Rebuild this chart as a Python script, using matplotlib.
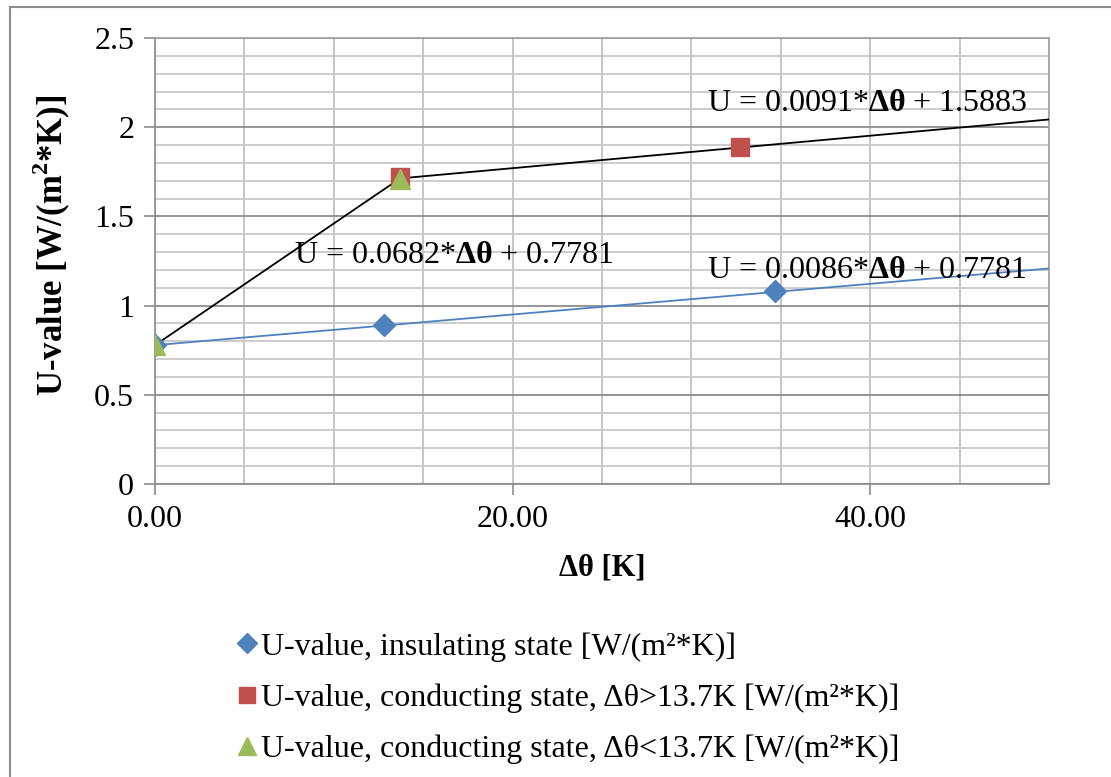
import numpy as np
import matplotlib
matplotlib.use("Agg")
import matplotlib.pyplot as plt
from matplotlib.ticker import MultipleLocator, FuncFormatter
from matplotlib.lines import Line2D

plt.rcParams['font.family'] = ['Liberation Serif', 'DejaVu Serif']
plt.rcParams['mathtext.fontset'] = 'custom'
plt.rcParams['mathtext.rm'] = 'Liberation Serif'
plt.rcParams['mathtext.bf'] = 'Liberation Serif:bold'

# Messpunkte
ins_x = [0.0, 12.8, 34.7]
ins_y = [0.78, 0.89, 1.08]
hi_x = [13.7, 32.7]
hi_y = [1.72, 1.89]
lo_x = [0.0, 13.7]
lo_y = [0.78, 1.71]

# Trendlinien: Steigung, Achsenabschnitt
ins_fit = (0.0086, 0.7781)
hi_fit = (0.0091, 1.5883)
lo_fit = (0.0682, 0.7781)
knee = 13.7
x_max = 50

labels = ['U-value, insulating state [W/(m²*K)]',
          'U-value, conducting state, Δθ>13.7K [W/(m²*K)]',
          'U-value, conducting state, Δθ<13.7K [W/(m²*K)]']

blue = '#4F81BD'
red = '#C0504D'
green = '#9BBB59'

fig = plt.figure(figsize=(11.11, 7.77), dpi=100)
ax = fig.add_axes([0.1395, 0.3771, 0.8047, 0.574])

# trend lines
xx = np.linspace(0, x_max, 50)
ax.plot(xx, ins_fit[0] * xx + ins_fit[1], color=blue, lw=1.3, zorder=3)
xl = np.linspace(0, knee, 20)
ax.plot(xl, lo_fit[0] * xl + lo_fit[1], color='black', lw=1.3, zorder=3)
xh = np.linspace(knee, x_max, 20)
ax.plot(xh, hi_fit[0] * xh + hi_fit[1], color='black', lw=1.3, zorder=3)

h1, = ax.plot(ins_x, ins_y, ls='none', marker='D', ms=11.5, color=blue, zorder=4, label=labels[0])
h2, = ax.plot(hi_x, hi_y, ls='none', marker='s', ms=13, color=red, zorder=4, label=labels[1])
h3, = ax.plot(lo_x, lo_y, ls='none', marker='^', ms=15, color=green, zorder=5, label=labels[2])

ax.set_xlim(0, x_max)
ax.set_ylim(0, 2.5)
ax.xaxis.set_major_locator(MultipleLocator(20))
ax.xaxis.set_minor_locator(MultipleLocator(5))
ax.yaxis.set_major_locator(MultipleLocator(0.5))
ax.yaxis.set_minor_locator(MultipleLocator(0.1))
ax.xaxis.set_major_formatter(FuncFormatter(lambda v, p: f'{v:.2f}'))
ax.yaxis.set_major_formatter(FuncFormatter(lambda v, p: f'{v:g}'))

ax.grid(which='major', axis='y', color='#8c8c8c', lw=1.3)
ax.grid(which='minor', axis='y', color='#c8c8c8', lw=1.3)
ax.grid(which='both', axis='x', color='#c0c0c0', lw=1.3)
ax.set_axisbelow(True)

ax.tick_params(which='major', direction='out', length=8, width=1.2, color='#8c8c8c',
               labelsize=23, pad=7)
ax.tick_params(which='minor', length=0)
for s in ax.spines.values():
    s.set_color('#a0a0a0')
    s.set_linewidth(1.2)
ax.spines['left'].set_color('#8c8c8c')
ax.spines['bottom'].set_color('#8c8c8c')

ax.set_ylabel('U-value [W/(m$^\\mathbf{2}$*K)]', fontsize=25, fontweight='bold')
ax.yaxis.set_label_coords(-0.092, 0.535)
ax.set_xlabel('Δθ [K]', fontsize=22, fontweight='bold', labelpad=14)

ax.text(7.8, 1.28, 'U = 0.0682*$\\mathbf{Δθ}$ + 0.7781', fontsize=23, va='center')
ax.text(30.9, 2.135, 'U = 0.0091*$\\mathbf{Δθ}$ + 1.5883', fontsize=23, va='center')
ax.text(30.9, 1.195, 'U = 0.0086*$\\mathbf{Δθ}$ + 0.7781', fontsize=23, va='center')

fig.legend(handles=[h1, h2, h3], loc='upper left', bbox_to_anchor=(0.1994, 0.207), frameon=False,
           fontsize=23, handlelength=0.6, handletextpad=0.12, labelspacing=0.68,
           borderpad=0, markerscale=0.85)

# Rahmen
fig.add_artist(Line2D([10 / 1111, 10 / 1111], [0, 1 - 7 / 777], color='#8c8c8c', lw=1.5))
fig.add_artist(Line2D([10 / 1111, 1], [1 - 7 / 777, 1 - 7 / 777], color='#8c8c8c', lw=1.5))

fig.savefig('out.png', dpi=100)
